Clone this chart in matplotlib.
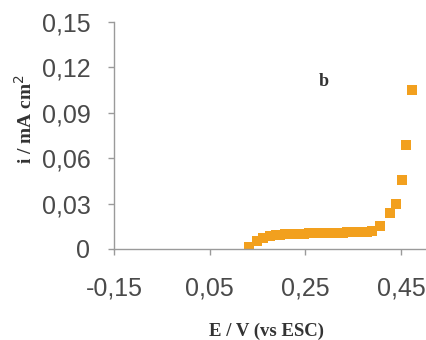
import matplotlib.pyplot as plt
from matplotlib.ticker import FuncFormatter

# potential (V vs ESC) and current density (mA cm-2)
potential = [0.133, 0.149, 0.161, 0.176, 0.188, 0.198, 0.208, 0.218, 0.228, 0.238,
             0.248, 0.258, 0.268, 0.278, 0.288, 0.298, 0.308, 0.318, 0.328, 0.338,
             0.348, 0.358, 0.368, 0.378, 0.390, 0.406, 0.427, 0.440, 0.453, 0.461,
             0.474]
current = [0.0013, 0.0053, 0.0073, 0.0086, 0.0092, 0.0095, 0.0097, 0.0098, 0.0099, 0.0100,
           0.0101, 0.0102, 0.0103, 0.0104, 0.0104, 0.0105, 0.0106, 0.0107, 0.0108, 0.0109,
           0.0110, 0.0111, 0.0112, 0.0114, 0.0118, 0.0150, 0.0240, 0.0295, 0.0455, 0.0685,
           0.1050]

x_ticks = [-0.15, 0.05, 0.25, 0.45]
y_ticks = [0, 0.03, 0.06, 0.09, 0.12, 0.15]

fig = plt.figure(figsize=(4.27, 3.40), dpi=100)
ax = fig.add_axes([0.267, 0.268, 0.728, 0.667])

ax.plot(potential, current, linestyle="none", marker="s", markersize=6.6,
        color="#F2A01E", markeredgewidth=0)

ax.set_xlim(-0.15, 0.50)
ax.set_ylim(0, 0.15)
ax.set_xticks(x_ticks)
ax.set_yticks(y_ticks)

comma = FuncFormatter(lambda v, p: "0" if abs(v) < 1e-9 else f"{v:.2f}".replace(".", ","))
ax.xaxis.set_major_formatter(comma)
ax.yaxis.set_major_formatter(comma)

for side in ["top", "right"]:
    ax.spines[side].set_visible(False)
for side in ["left", "bottom"]:
    ax.spines[side].set_color("#9a9a9a")
    ax.spines[side].set_linewidth(1.0)

ax.tick_params(axis="both", colors="#9a9a9a", labelcolor="#4a4a4a",
               labelsize=18, length=4, width=1.0, direction="out")
ax.tick_params(axis="x", pad=16)
ax.tick_params(axis="y", pad=13)
for lab in ax.get_xticklabels() + ax.get_yticklabels():
    lab.set_fontfamily("Liberation Sans")

fig.text(0.623, 0.024, "E / V (vs ESC)", ha="center", va="center",
         fontsize=13.5, fontweight="bold", family="Liberation Serif", color="#333333")
fig.text(0.058, 0.65, "i / mA cm$^{2}$", ha="center", va="center", rotation=90,
         fontsize=14, fontweight="bold", family="Liberation Serif", color="#333333")
fig.text(0.757, 0.76, "b", ha="center", va="center",
         fontsize=13, fontweight="bold", family="Liberation Serif", color="#333333")

fig.savefig("out.png", dpi=100)
